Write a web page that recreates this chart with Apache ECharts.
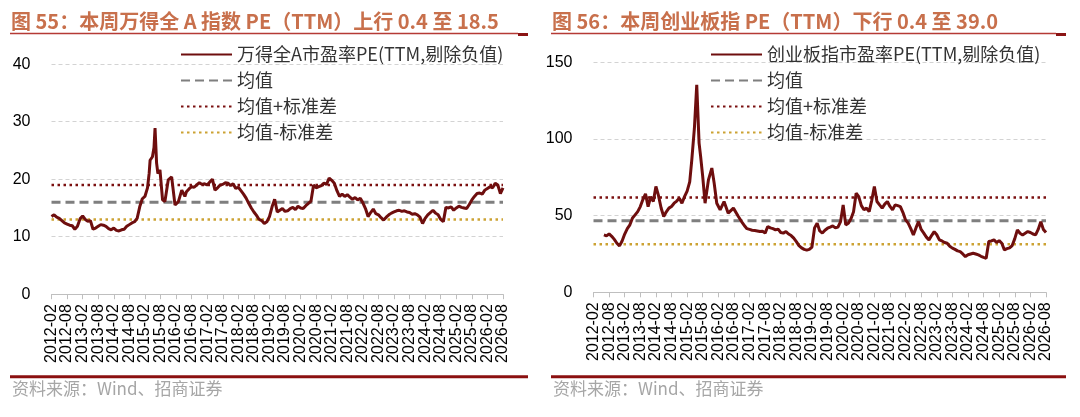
<!DOCTYPE html>
<html lang="zh">
<head>
<meta charset="UTF-8">
<title>PE(TTM)</title>
<script src="https://cdn.jsdelivr.net/npm/echarts@6/dist/echarts.min.js"></script>
<style>
  html, body { margin: 0; padding: 0; background: #fff; }
  #main { width: 1080px; height: 417px; }
</style>
</head>
<body>
<div id="main"></div>
<script>
// x轴刻度标签（每半年一个）
var xTicks = ['2012-02','2012-08','2013-02','2013-08','2014-02','2014-08','2015-02','2015-08',
  '2016-02','2016-08','2017-02','2017-08','2018-02','2018-08','2019-02','2019-08','2020-02','2020-08',
  '2021-02','2021-08','2022-02','2022-08','2023-02','2023-08','2024-02','2024-08','2025-02','2025-08',
  '2026-02','2026-08'];

// 万得全A PE(TTM)
var waDates = [
  '2012-02','2012-03','2012-04','2012-05','2012-06','2012-07','2012-08','2012-09','2012-10','2012-11','2012-12',
  '2013-01','2013-02','2013-03','2013-04','2013-05','2013-06','2013-07','2013-08','2013-09','2013-10','2013-11','2013-12',
  '2014-01','2014-02','2014-03','2014-04','2014-05','2014-06','2014-07','2014-08','2014-09','2014-10','2014-11','2014-12',
  '2015-01','2015-02','2015-03','2015-03-20','2015-04','2015-04-28','2015-05-16','2015-05-28','2015-06-16','2015-07','2015-07-25','2015-08-25','2015-09-22','2015-11','2015-12-10',
  '2016-01-19','2016-02-28','2016-04-07','2016-05-13','2016-06','2016-07','2016-08','2016-09','2016-10','2016-11','2016-12',
  '2017-01','2017-02','2017-03','2017-04','2017-05','2017-06','2017-07','2017-08','2017-09','2017-10','2017-11','2017-12',
  '2018-01','2018-02','2018-03','2018-04','2018-05','2018-06','2018-07','2018-08','2018-09','2018-10','2018-11','2018-12',
  '2019-01','2019-02','2019-03','2019-04','2019-05','2019-06','2019-07','2019-08','2019-09','2019-10','2019-11','2019-12',
  '2020-01','2020-02','2020-03','2020-04','2020-05','2020-06','2020-07','2020-08','2020-09','2020-10','2020-11','2020-12',
  '2021-01','2021-02','2021-03','2021-04','2021-05','2021-06','2021-07','2021-08','2021-09','2021-10','2021-11','2021-12',
  '2022-01','2022-02','2022-03','2022-04','2022-05','2022-06','2022-07','2022-08','2022-09','2022-10','2022-11','2022-12',
  '2023-01','2023-02','2023-03','2023-04','2023-05','2023-06','2023-07','2023-08','2023-09','2023-10','2023-11','2023-12',
  '2024-01','2024-02','2024-03','2024-04','2024-05','2024-06','2024-07','2024-08','2024-09','2024-10','2024-11','2024-12',
  '2025-01','2025-02','2025-03','2025-04','2025-05','2025-06','2025-07','2025-08','2025-09','2025-10','2025-11','2025-12',
  '2026-01','2026-02','2026-03','2026-04','2026-05','2026-06','2026-07','2026-08'];
var waPE = [
  13.5,13.8,13.4,13.2,12.8,12.4,12.2,12.0,11.9,11.3,11.8,
  13.1,13.6,13.0,12.7,12.8,11.3,11.5,11.8,12.1,12.0,11.8,11.4,
  11.2,11.5,11.1,11.0,11.2,11.3,11.8,12.1,12.4,12.6,13.2,15.2,
  16.6,17.0,18.5,21.0,23.3,23.9,25.5,28.9,22.8,21.0,21.6,16.4,16.1,19.9,20.4,
  15.5,16.1,18.1,17.0,17.8,18.3,18.7,18.6,19.0,19.4,19.1,
  19.2,19.0,19.5,20.0,18.1,18.5,19.0,19.1,19.4,19.3,18.9,19.2,
  18.4,18.6,18.0,17.4,16.7,15.8,15.0,14.3,13.7,13.0,12.8,12.3,
  12.6,13.5,15.2,16.5,14.3,14.6,14.9,14.4,14.5,14.9,15.1,14.7,
  15.3,15.0,14.9,15.4,15.8,16.2,19.0,18.5,18.7,18.9,19.3,19.1,
  20.2,19.8,19.3,18.0,17.0,17.4,17.0,17.3,16.9,16.5,16.8,16.4,
  16.7,15.9,14.9,13.5,14.2,14.8,14.0,13.8,13.3,12.9,13.4,13.8,
  14.1,14.3,14.5,14.6,14.4,14.5,14.3,14.2,13.9,14.0,13.8,13.4,
  12.3,13.2,13.8,14.2,14.6,14.1,13.8,13.0,12.6,15.1,15.0,15.2,
  14.6,15.0,15.3,15.1,15.0,14.9,15.6,16.4,17.0,17.5,17.6,17.4,
  18.1,18.4,18.7,18.5,19.3,19.0,17.5,18.5];
var waMean = 16.0, waUpper = 19.0, waLower = 13.0;

// 创业板指 PE(TTM)
var cyDates = [
  '2012-06','2012-07','2012-08','2012-09','2012-10','2012-11','2012-12',
  '2013-01','2013-02','2013-03','2013-04','2013-05','2013-06','2013-07','2013-08','2013-09','2013-10','2013-11','2013-12',
  '2014-01','2014-02','2014-03','2014-04','2014-05','2014-06','2014-07','2014-08','2014-09','2014-10','2014-11','2014-12',
  '2015-01','2015-02','2015-03','2015-03-25','2015-04-25','2015-05-22','2015-06-19','2015-07-07','2015-08','2015-08-28','2015-10-07','2015-11-16','2015-12-13',
  '2016-01-13','2016-02-22','2016-04-07','2016-05-25','2016-07-25','2016-09-22','2016-11','2016-12-10',
  '2017-01','2017-02','2017-03','2017-04','2017-05','2017-06','2017-07','2017-08','2017-09','2017-10','2017-11','2017-12',
  '2018-01','2018-02','2018-03','2018-04','2018-05','2018-06','2018-07','2018-08','2018-09','2018-10','2018-11','2018-12',
  '2019-01','2019-02','2019-03','2019-04','2019-05','2019-06','2019-07','2019-08','2019-09','2019-10','2019-11','2019-12',
  '2020-01','2020-02','2020-03','2020-04','2020-05','2020-06','2020-07','2020-08','2020-09','2020-10','2020-11','2020-12',
  '2021-01','2021-02','2021-03','2021-04','2021-05','2021-06','2021-07','2021-08','2021-09','2021-10','2021-11','2021-12',
  '2022-01','2022-02','2022-03','2022-04','2022-05','2022-06','2022-07','2022-08','2022-09','2022-10','2022-11','2022-12',
  '2023-01','2023-02','2023-03','2023-04','2023-05','2023-06','2023-07','2023-08','2023-09','2023-10','2023-11','2023-12',
  '2024-01','2024-02','2024-03','2024-04','2024-05','2024-06','2024-07','2024-08','2024-09','2024-10','2024-11','2024-12',
  '2025-01','2025-02','2025-03','2025-04','2025-05','2025-06','2025-07','2025-08','2025-09','2025-10','2025-11','2025-12',
  '2026-01','2026-02','2026-03','2026-04','2026-05','2026-06','2026-07','2026-08'];
var cyPE = [
  37.4,36.8,38.1,36.5,34.5,32.0,30.3,
  33.5,38.0,41.5,44.0,48.5,50.5,52.6,55.9,60.5,64.2,55.9,62.4,
  59.2,69.0,63.0,55.0,49.4,52.5,54.9,56.0,58.1,59.5,61.4,58.1,
  62.4,66.0,72.0,86.4,107.0,135.3,97.3,88.5,75.5,58.1,73.3,81.0,71.2,
  58.1,53.8,59.2,51.6,54.9,49.4,46.0,42.9,
  41.5,41.0,40.5,40.3,40.0,39.6,39.8,38.6,42.9,42.0,41.5,40.7,
  41.2,39.0,38.6,39.6,38.0,37.0,35.3,33.0,30.5,29.0,28.0,27.5,
  28.0,29.5,42.0,45.1,40.0,38.6,40.5,41.8,42.5,43.3,42.0,42.5,
  46.1,57.0,44.0,45.0,48.0,52.6,64.6,62.4,56.5,53.8,54.9,52.6,
  60.0,69.0,59.2,57.0,54.9,57.5,59.2,56.0,53.8,57.0,56.5,55.9,
  52.0,47.2,45.1,41.5,37.4,42.0,46.1,41.0,38.6,36.0,34.2,37.0,
  39.6,37.5,34.2,33.5,32.5,32.0,30.0,28.8,28.0,27.0,26.5,25.0,
  23.3,24.5,25.0,25.5,25.0,24.4,23.5,22.8,22.2,33.1,33.5,34.2,
  32.5,33.7,32.0,27.7,28.5,29.0,30.5,35.0,40.7,38.5,37.4,38.5,
  39.6,39.0,38.0,37.4,41.0,46.1,41.0,39.0];
var cyMean = 46.6, cyUpper = 61.8, cyLower = 31.4;

var lastMonth = 174; // 2026-08

// 日期 -> 距2012-02的月数
function toMonth(s) {
  var p = s.split('-');
  var m = (+p[0] - 2012) * 12 + (+p[1] - 2);
  if (p[2]) m += (+p[2] - 1) / 30;
  return m;
}
function pairs(dates, vals) {
  return dates.map(function (d, i) { return [toMonth(d), vals[i]]; });
}

var cjk = '"Noto Sans CJK SC", sans-serif';
var latin = '"Liberation Sans", Arial, sans-serif';
var mainColor = '#6E0E0E';

// 均值/标准差水平线（画在隐藏的数值x轴上）
function levelSeries(name, val, idx, style) {
  return {
    name: name, type: 'line', xAxisIndex: idx + 2, yAxisIndex: idx,
    data: [[0, val], [lastMonth, val]],
    symbol: 'none', silent: true, z: 2, lineStyle: style, itemStyle: { color: style.color }
  };
}
var meanStyle = { color: '#7F7F7F', width: 3, type: [9, 5] };
var upStyle = { color: '#7B1010', width: 2.5, type: [2.5, 3.5] };
var lowStyle = { color: '#CCA233', width: 2.5, type: [2.5, 3.5] };

// 显示用：半年刻度的类目轴
function tickAxis(idx) {
  return {
    type: 'category', gridIndex: idx, data: xTicks, boundaryGap: false,
    axisLine: { show: true, lineStyle: { color: '#BFBFBF', width: 1 } },
    axisTick: { show: true, length: 5, interval: 0, lineStyle: { color: '#BFBFBF' } },
    splitLine: { show: false },
    axisLabel: { interval: 0, rotate: 90, margin: 10, fontSize: 16, color: '#000', fontFamily: latin }
  };
}
// 数据用：按月计的数值轴，不显示
function monthAxis(idx) {
  return { type: 'value', gridIndex: idx, min: 0, max: lastMonth, interval: 6, show: false };
}
function yAxis(idx, max, interval) {
  return {
    type: 'value', gridIndex: idx, min: 0, max: max, interval: interval,
    axisLine: { show: false }, axisTick: { show: false },
    splitLine: { show: true, lineStyle: { color: '#D3D3D3', width: 1, type: [4, 3] } },
    axisLabel: { margin: 21, fontSize: 16, color: '#000', fontFamily: latin }
  };
}
function legend(left, names) {
  return {
    data: names, orient: 'vertical', left: left, top: 40.5,
    itemWidth: 51, itemHeight: 18, itemGap: 8, selectedMode: false,
    itemStyle: { opacity: 0 },
    textStyle: { fontSize: 18, color: '#333', fontFamily: cjk, lineHeight: 18 }
  };
}
function frame(x1, x2) {
  return [
    { type: 'line', shape: { x1: x1, y1: 33.5, x2: x2 - 10, y2: 33.5 }, style: { stroke: '#B53A35', lineWidth: 1.6 } },
    { type: 'line', shape: { x1: x2 - 10, y1: 34.5, x2: x2, y2: 34.5 }, style: { stroke: '#8B1414', lineWidth: 3 } },
    { type: 'line', shape: { x1: x1, y1: 376.7, x2: x2, y2: 376.7 }, style: { stroke: '#8B1010', lineWidth: 3 } },
    { type: 'text', style: { x: x1 + 2, y: 389, text: '资料来源：Wind、招商证券', fill: '#A6A6A6',
      fontSize: 17, fontFamily: cjk, verticalAlign: 'middle' } }
  ];
}

var waName = '万得全A市盈率PE(TTM,剔除负值)';
var cyName = '创业板指市盈率PE(TTM,剔除负值)';

var myChart = echarts.init(document.getElementById('main'));
var option = {
  animation: false,
  title: [
    { text: '图 55：本周万得全 A 指数 PE（TTM）上行 0.4 至 18.5', left: 11, top: 11, padding: 0,
      textStyle: { fontSize: 20, fontWeight: 'bold', color: '#C8704C', fontFamily: cjk } },
    { text: '图 56：本周创业板指 PE（TTM）下行 0.4 至 39.0', left: 552, top: 11, padding: 0,
      textStyle: { fontSize: 20, fontWeight: 'bold', color: '#C8704C', fontFamily: cjk } }
  ],
  legend: [
    legend(175, [waName, '均值', '均值+标准差', '均值-标准差']),
    legend(705, [cyName, '均值', '均值+标准差', '均值-标准差'])
  ],
  grid: [
    { left: 51.5, top: 64.2, width: 451.5, height: 230, outerBoundsMode: 'none' },
    { left: 593.5, top: 62.3, width: 452.5, height: 230, outerBoundsMode: 'none' }
  ],
  xAxis: [tickAxis(0), tickAxis(1), monthAxis(0), monthAxis(1)],
  yAxis: [yAxis(0, 40, 10), yAxis(1, 150, 50)],
  graphic: frame(10, 528).concat(frame(551, 1066)),
  series: [
    { name: waName, type: 'line', xAxisIndex: 2, yAxisIndex: 0, data: pairs(waDates, waPE),
      symbol: 'none', z: 3, lineStyle: { color: mainColor, width: 3 }, itemStyle: { color: mainColor } },
    levelSeries('均值', waMean, 0, meanStyle),
    levelSeries('均值+标准差', waUpper, 0, upStyle),
    levelSeries('均值-标准差', waLower, 0, lowStyle),
    { name: cyName, type: 'line', xAxisIndex: 3, yAxisIndex: 1, data: pairs(cyDates, cyPE),
      symbol: 'none', z: 3, lineStyle: { color: mainColor, width: 3 }, itemStyle: { color: mainColor } },
    levelSeries('均值', cyMean, 1, meanStyle),
    levelSeries('均值+标准差', cyUpper, 1, upStyle),
    levelSeries('均值-标准差', cyLower, 1, lowStyle)
  ]
};
myChart.setOption(option);
</script>
</body>
</html>
